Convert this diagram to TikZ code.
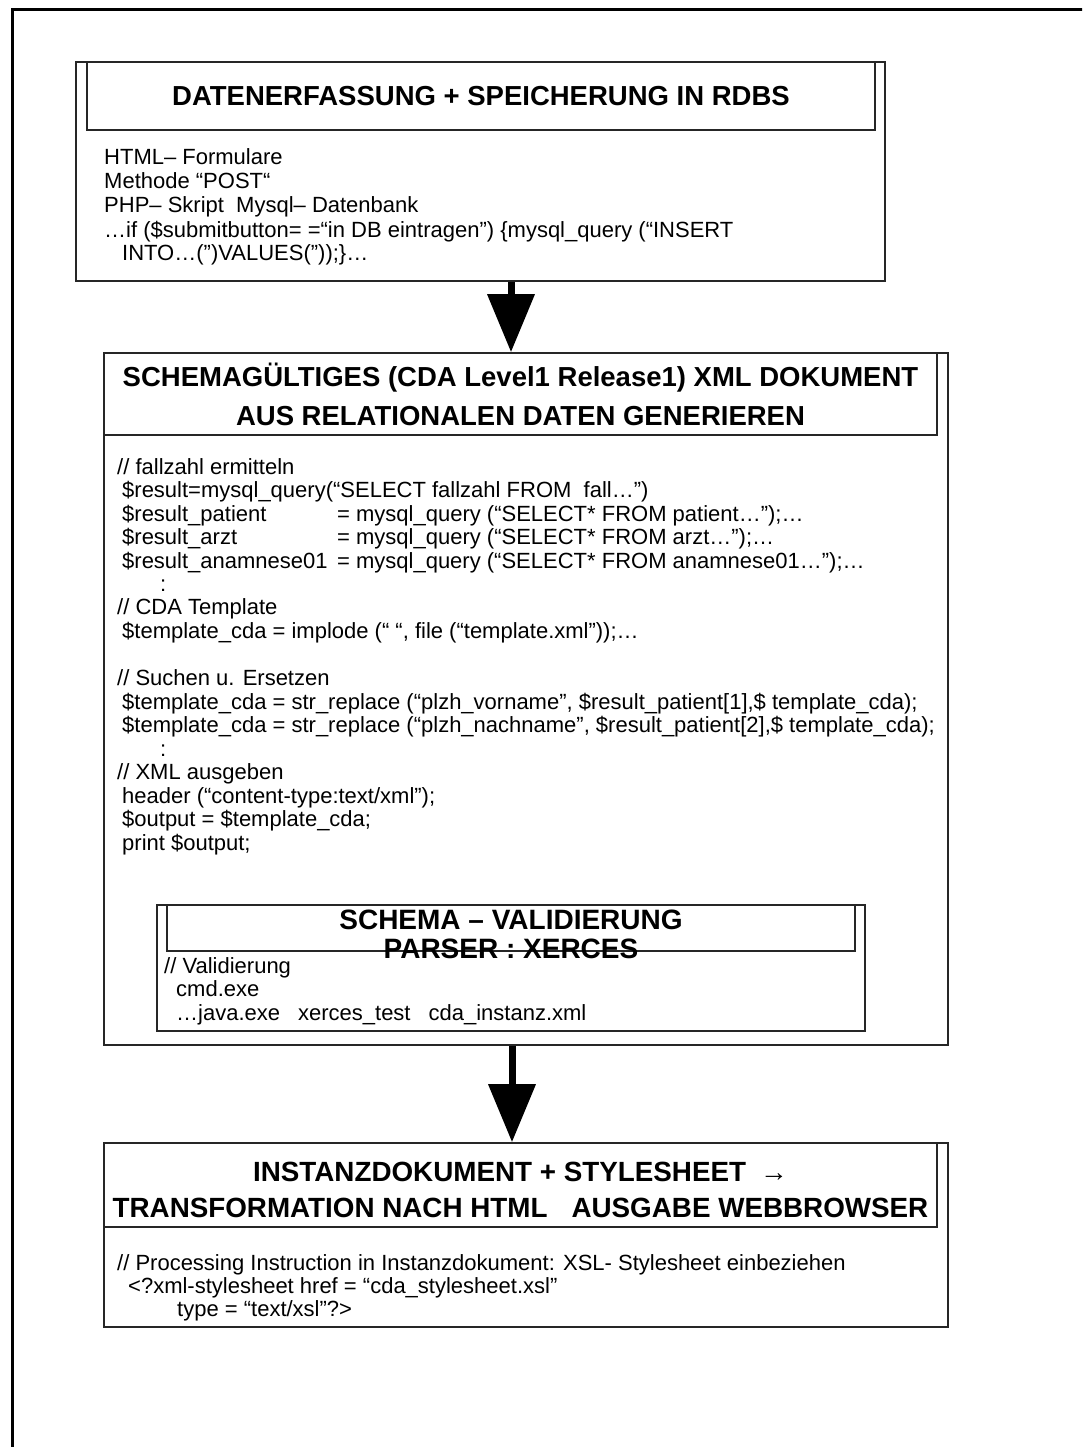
\documentclass[tikz,border=0pt]{standalone}
\usepackage{fontspec}
\setmainfont{Liberation Sans}
\usetikzlibrary{arrows.meta}
\begin{document}
\begin{tikzpicture}[x=1pt,y=-1pt,
  boxline/.style={draw=black!85,line width=1.7pt,inner sep=0pt,fill=none},
  hdr/.style={font=\fontsize{27.5}{39}\selectfont\bfseries,align=center,inner sep=0pt},
  body/.style={font=\fontsize{22}{24}\selectfont,anchor=base west,inner sep=0pt},
  bigarrow/.style={line width=7pt,-{Triangle[length=58pt 0 0,width=46pt 0 0]}}
]
\useasboundingbox (0,0) rectangle (1082,1447);
\begin{scope}
\clip (0,0) rectangle (1082,1447);
\draw[line width=3pt] (12.5,9.5) rectangle (1120,1490);
\end{scope}

% Box 1
\node[boxline,minimum width=809pt,minimum height=219pt] (b1) at (480.5,171.5) {};
\node[boxline,minimum width=788pt,minimum height=68pt] (h1) at (481,96) {};
\node[hdr] (h1t) at (h1.center) {DATENERFASSUNG + SPEICHERUNG IN RDBS};
\node[body] (t11) at (104,165) {HTML– Formulare};
\node[body] (t12) at (104,189) {Methode “POST“};
\node[body] (t13) at (104,213) {PHP– Skript\ \ Mysql– Datenbank};
\node[body] (t14) at (104,237) {…if (\$submitbutton= =“in DB eintragen”) \{mysql\_query (“INSERT};
\node[body] (t15) at (122,260) {INTO…(”)VALUES(”));\}…};

% Box 2
\node[boxline,minimum width=844pt,minimum height=692pt] (b2) at (526,699) {};
\node[boxline,minimum width=833pt,minimum height=82pt] (h2) at (520.5,394) {};
\node[hdr] (h2t) at (520.5,394) {SCHEMAGÜLTIGES (CDA Level1 Release1) XML DOKUMENT\\AUS RELATIONALEN DATEN GENERIEREN};
\node[body] (t21) at (117,474) {// fallzahl ermitteln};
\node[body] (t22) at (122,497.5) {\$result=mysql\_query(“SELECT fallzahl FROM\ \ fall…”)};
\node[body] (t23) at (122,521) {\makebox[215pt][l]{\$result\_patient}= mysql\_query (“SELECT* FROM patient…”);…};
\node[body] (t24) at (122,544.5) {\makebox[215pt][l]{\$result\_arzt}= mysql\_query (“SELECT* FROM arzt…”);…};
\node[body] (t25) at (122,568) {\makebox[215pt][l]{\$result\_anamnese01}= mysql\_query (“SELECT* FROM anamnese01…”);…};
\node[body] (t26) at (160,591) {:};
\node[body] (t27) at (117,614.5) {// CDA Template};
\node[body] (t28) at (122,638) {\$template\_cda = implode (“ “, file (“template.xml”));…};
\node[body] (t29) at (117,685.5) {// Suchen u. Ersetzen};
\node[body] (t210) at (122,709) {\$template\_cda = str\_replace (“plzh\_vorname”, \$result\_patient[1],\$ template\_cda);};
\node[body] (t211) at (122,732.5) {\$template\_cda = str\_replace (“plzh\_nachname”, \$result\_patient[2],\$ template\_cda);};
\node[body] (t212) at (160,756) {:};
\node[body] (t213) at (117,779.5) {// XML ausgeben};
\node[body] (t214) at (122,803) {header (“content-type:text/xml”);};
\node[body] (t215) at (122,826.5) {\$output = \$template\_cda;};
\node[body] (t216) at (122,850) {print \$output;};

% Inner box
\node[boxline,minimum width=708pt,minimum height=126pt] (b4) at (511,968) {};
\node[boxline,minimum width=688pt,minimum height=46pt] (h4) at (511,928) {};
\node[hdr,font=\fontsize{28}{29}\selectfont\bfseries] (h4t) at (511,934) {SCHEMA – VALIDIERUNG\\PARSER : XERCES};
\node[body] (t41) at (164,973) {// Validierung};
\node[body] (t42) at (176,996.5) {cmd.exe};
\node[body] (t43) at (176,1020) {…java.exe\hspace{18pt}xerces\_test\hspace{18pt}cda\_instanz.xml};

% Box 3
\node[boxline,minimum width=844pt,minimum height=184pt] (b3) at (526,1235) {};
\node[boxline,minimum width=833pt,minimum height=84pt] (h3) at (520.5,1185) {};
\node[hdr,font=\fontsize{27.8}{36}\selectfont\bfseries] (h3t) at (520.5,1190) {INSTANZDOKUMENT + STYLESHEET\hspace{14pt}→\\TRANSFORMATION NACH HTML\hspace{24pt}AUSGABE WEBBROWSER};
\node[body] (t31) at (117,1270) {// Processing Instruction in Instanzdokument: XSL- Stylesheet einbeziehen};
\node[body] (t32) at (128,1293) {<?xml-stylesheet href = “cda\_stylesheet.xsl”};
\node[body] (t33) at (177,1316) {type = “text/xsl”?>};

% Arrows
\coordinate (a1) at (511,0);
\coordinate (a2) at (512,0);
\draw[bigarrow] (b1.south -| a1) -- (b2.north -| a1);
\draw[bigarrow] (b2.south -| a2) -- (b3.north -| a2);
\end{tikzpicture}
\end{document}
